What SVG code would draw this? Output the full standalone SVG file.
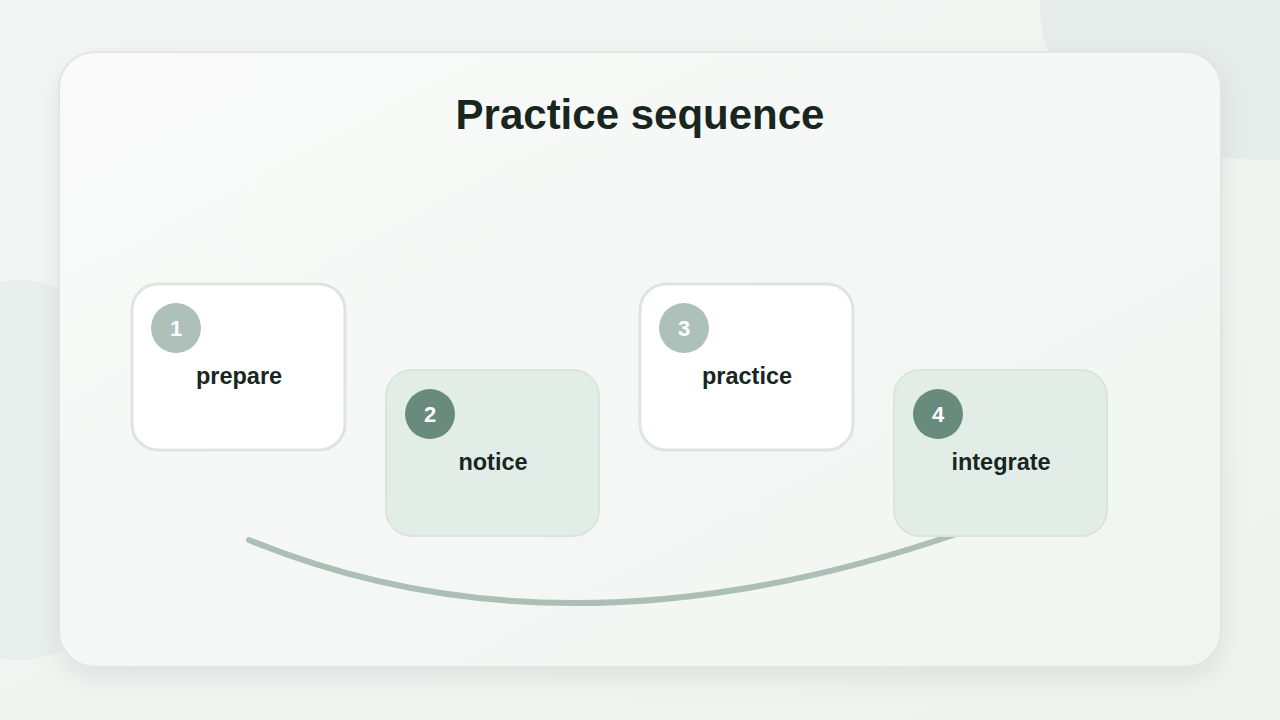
<svg xmlns="http://www.w3.org/2000/svg" width="1280" height="720" viewBox="0 0 1280 720">
<defs>
<linearGradient id="bg" x1="0" y1="0" x2="1" y2="1"><stop offset="0" stop-color="#f3f6f4"/><stop offset="1" stop-color="#eef3f0"/></linearGradient>
<linearGradient id="card" x1="0" y1="0" x2="1" y2="1"><stop offset="0" stop-color="#f9faf9"/><stop offset="1" stop-color="#f0f5f2"/></linearGradient>
<filter id="sh" x="-10%" y="-10%" width="120%" height="130%"><feDropShadow dx="0" dy="10" stdDeviation="12" flood-color="#000" flood-opacity="0.08"/></filter>
<style>
.light{fill:#ffffff;stroke:#dde5e1;stroke-width:3}
.dark{fill:#e3ede8;stroke:#d9e4df;stroke-width:2}
.lbl{font-family:"Liberation Sans",Arial,sans-serif;font-weight:bold;font-size:23.5px;fill:#18261f;text-anchor:middle}
.num{font-family:"Liberation Sans",Arial,sans-serif;font-weight:bold;font-size:22px;fill:#ffffff;text-anchor:middle}
</style>
</defs>
<rect width="1280" height="720" fill="url(#bg)"/>
<ellipse cx="1260" cy="10" rx="220" ry="150" fill="#e6ece9"/>
<ellipse cx="20" cy="470" rx="130" ry="190" fill="#e9efec"/>
<rect x="59" y="52" width="1162" height="615" rx="36" fill="url(#card)" stroke="#dfe6e3" stroke-width="2" filter="url(#sh)"/>
<text x="640" y="129" font-family="'Liberation Sans',Arial,sans-serif" font-weight="bold" font-size="42" fill="#18261f" text-anchor="middle">Practice sequence</text>
<g id="connectors">
<path d="M249,540 Q565,670 962,532" fill="none" stroke="#acbfb7" stroke-width="6" stroke-linecap="round"/>
</g>
<g id="node1"><rect class="light" x="132" y="284" width="213" height="166" rx="26"/><circle cx="176" cy="328" r="25" fill="#adc1ba"/><text class="num" x="176" y="336">1</text><text class="lbl" x="239" y="384">prepare</text></g>
<g id="node2"><rect class="dark" x="386" y="370" width="213" height="166" rx="26"/><circle cx="430" cy="414" r="25" fill="#688b7d"/><text class="num" x="430" y="422">2</text><text class="lbl" x="493" y="470">notice</text></g>
<g id="node3"><rect class="light" x="640" y="284" width="213" height="166" rx="26"/><circle cx="684" cy="328" r="25" fill="#adc1ba"/><text class="num" x="684" y="336">3</text><text class="lbl" x="747" y="384">practice</text></g>
<g id="node4"><rect class="dark" x="894" y="370" width="213" height="166" rx="26"/><circle cx="938" cy="414" r="25" fill="#688b7d"/><text class="num" x="938" y="422">4</text><text class="lbl" x="1001" y="470">integrate</text></g>
</svg>
